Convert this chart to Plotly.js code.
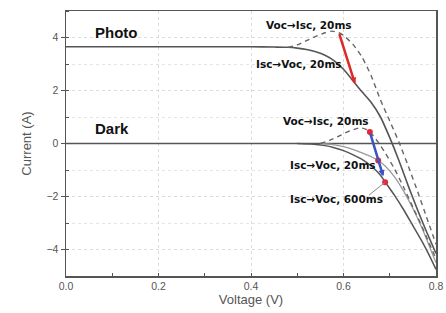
<!DOCTYPE html>
<html><head><meta charset="utf-8">
<script src="https://cdn.plot.ly/plotly-3.0.1.min.js"></script>
<style>html,body{margin:0;padding:0;background:#fff}#c{width:446px;height:313px}</style>
</head><body><div id="c"></div>
<script>
// Photo, Isc->Voc 20ms (solid)
const photoSolidV = [0, 0.1, 0.2, 0.3, 0.4, 0.45, 0.48, 0.5, 0.52, 0.54, 0.56, 0.58, 0.6, 0.62, 0.64, 0.66, 0.68, 0.70, 0.72, 0.74, 0.76, 0.78, 0.8];
const photoSolidI = [3.65, 3.65, 3.65, 3.65, 3.65, 3.64, 3.63, 3.60, 3.55, 3.46, 3.33, 3.12, 2.80, 2.38, 1.95, 1.55, 1.00, 0.22, -0.65, -1.6, -2.5, -3.35, -4.15];
// Photo, Voc->Isc 20ms (dashed)
const photoDashV = [0.48, 0.50, 0.52, 0.54, 0.56, 0.575, 0.59, 0.60, 0.62, 0.64, 0.66, 0.68, 0.70, 0.72, 0.74, 0.76, 0.78, 0.8];
const photoDashI = [3.63, 3.72, 3.88, 4.04, 4.18, 4.24, 4.18, 4.08, 3.75, 3.26, 2.55, 1.64, 0.85, 0.05, -0.85, -1.8, -2.8, -3.8];
// Dark baseline
const darkBaseV = [0, 0.8];
const darkBaseI = [0, 0];
// Dark, Voc->Isc 20ms (dashed)
const darkDashV = [0.55, 0.57, 0.59, 0.61, 0.63, 0.64, 0.65, 0.66, 0.675, 0.69, 0.71, 0.73, 0.75, 0.77, 0.785, 0.8];
const darkDashI = [0.0, 0.12, 0.28, 0.45, 0.57, 0.58, 0.52, 0.38, 0.05, -0.35, -0.95, -1.65, -2.4, -3.15, -3.75, -4.35];
// Dark, Isc->Voc 20ms (light solid)
const dark20V = [0.55, 0.58, 0.60, 0.62, 0.64, 0.66, 0.675, 0.69, 0.71, 0.73, 0.75, 0.77, 0.785, 0.8];
const dark20I = [0, -0.05, -0.12, -0.22, -0.35, -0.5, -0.64, -0.85, -1.25, -1.8, -2.45, -3.2, -3.85, -4.5];
// Dark, Isc->Voc 600ms (dark solid)
const dark600V = [0.50, 0.53, 0.56, 0.58, 0.60, 0.62, 0.64, 0.66, 0.68, 0.69, 0.71, 0.73, 0.75, 0.77, 0.785, 0.8];
const dark600I = [0, -0.02, -0.08, -0.16, -0.27, -0.42, -0.6, -0.85, -1.2, -1.45, -1.95, -2.5, -3.1, -3.7, -4.2, -4.75];
// Red markers on dark curves
const dotV = [0.657, 0.675, 0.690];
const dotI = [0.43, -0.64, -1.46];
// Arrows [start, end]
const photoArrowV = [0.590, 0.625];
const photoArrowI = [4.18, 2.25];
const darkArrowV = [0.657, 0.686];
const darkArrowI = [0.43, -1.24];
// Ticks
const xTicks = [0, 0.2, 0.4, 0.6, 0.8];
const xTickText = ['0.0', '0.2', '0.4', '0.6', '0.8'];
const yTicks = [-4, -2, 0, 2, 4];
const yTickText = ['\u22124', '\u22122', '0', '2', '4'];

const grey = '#555';
const traces = [
  {x: darkBaseV, y: darkBaseI, mode: 'lines', line: {color: grey, width: 1.6}},
  {x: dark600V, y: dark600I, mode: 'lines', line: {color: '#555', width: 1.5, shape: 'spline', smoothing: 0.6}},
  {x: dark20V, y: dark20I, mode: 'lines', line: {color: '#9a9a9a', width: 1.3, shape: 'spline', smoothing: 0.6}},
  {x: darkDashV, y: darkDashI, mode: 'lines', line: {color: '#666', width: 1.4, dash: '5px,4px', shape: 'spline', smoothing: 0.6}},
  {x: photoSolidV, y: photoSolidI, mode: 'lines', line: {color: '#555', width: 1.6, shape: 'spline', smoothing: 0.6}},
  {x: photoDashV, y: photoDashI, mode: 'lines', line: {color: '#666', width: 1.4, dash: '5px,4px', shape: 'spline', smoothing: 0.6}},
  {x: dotV, y: dotI, mode: 'markers', marker: {color: '#e8283a', size: 6}}
];

const lblFont = {family: 'DejaVu Sans, sans-serif', size: 10.5, color: '#111'};
function lbl(text, x, y) {
  return {text: '<b>' + text + '</b>', x: x, y: y, xref: 'x', yref: 'y', showarrow: false, xanchor: 'left', yanchor: 'middle', font: lblFont};
}
const annotations = [
  {text: '<b>Photo</b>', x: 0.058, y: 4.19, xref: 'x', yref: 'y', showarrow: false, xanchor: 'left', yanchor: 'middle', font: {family: 'Liberation Sans, Arial, sans-serif', size: 15, color: '#111'}},
  {text: '<b>Dark</b>', x: 0.058, y: 0.55, xref: 'x', yref: 'y', showarrow: false, xanchor: 'left', yanchor: 'middle', font: {family: 'Liberation Sans, Arial, sans-serif', size: 15, color: '#111'}},
  lbl('Voc\u2192Isc, 20ms', 0.429, 4.47),
  lbl('Isc\u2192Voc, 20ms', 0.407, 2.99),
  lbl('Voc\u2192Isc, 20ms', 0.464, 0.86),
  lbl('Isc\u2192Voc, 20ms', 0.480, -0.81),
  lbl('Isc\u2192Voc, 600ms', 0.480, -2.11),
  {x: photoArrowV[1], y: photoArrowI[1], ax: photoArrowV[0], ay: photoArrowI[0], xref: 'x', yref: 'y', axref: 'x', ayref: 'y',
   text: '', showarrow: true, arrowhead: 2, arrowsize: 0.5, arrowwidth: 2.5, arrowcolor: '#e02828'},
  {x: darkArrowV[1], y: darkArrowI[1], ax: darkArrowV[0], ay: darkArrowI[0], xref: 'x', yref: 'y', axref: 'x', ayref: 'y',
   text: '', showarrow: true, arrowhead: 2, arrowsize: 0.5, arrowwidth: 2.5, arrowcolor: '#3a55c0'}
];

const layout = {
  width: 446, height: 313,
  margin: {l: 66, r: 10, t: 11, b: 37},
  paper_bgcolor: '#fff', plot_bgcolor: '#fff',
  showlegend: false,
  font: {family: 'Liberation Sans, Arial, sans-serif', color: grey},
  xaxis: {
    range: [0, 0.8], tickvals: xTicks, ticktext: xTickText,
    showline: true, linecolor: grey, linewidth: 1.5, mirror: true,
    ticks: 'inside', ticklen: 3, tickcolor: grey,
    showgrid: true, gridcolor: '#dcdcdc', griddash: 'dot', gridwidth: 1,
    zeroline: false,
    minor: {dtick: 0.1, tick0: 0, ticks: 'inside', ticklen: 3, tickcolor: grey, showgrid: false},
    tickfont: {size: 10.5, color: '#555'},
    title: {text: 'Voltage (V)', font: {size: 13, color: '#555'}, standoff: 4}
  },
  yaxis: {
    range: [-5, 5], tickvals: yTicks, ticktext: yTickText,
    showline: true, linecolor: grey, linewidth: 1.5, mirror: true,
    ticks: 'outside', ticklen: 4, tickcolor: grey,
    showgrid: true, gridcolor: '#dcdcdc', griddash: 'dot', gridwidth: 1,
    zeroline: false,
    minor: {dtick: 1, tick0: 0, ticks: 'inside', ticklen: 3, tickcolor: grey, showgrid: true, gridcolor: '#e4e4e4', griddash: 'dot'},
    tickfont: {size: 10.5, color: '#555'},
    title: {text: 'Current (A)', font: {size: 13, color: '#555'}, standoff: 12}
  },
  annotations: annotations,
  shapes: [
    {type: 'line', xref: 'x', yref: 'y', x0: 0.655, y0: -1.95, x1: dotV[2], y1: dotI[2], line: {color: '#888', width: 1}}
  ]
};
Plotly.newPlot('c', traces, layout, {displayModeBar: false, staticPlot: true});
</script></body></html>
